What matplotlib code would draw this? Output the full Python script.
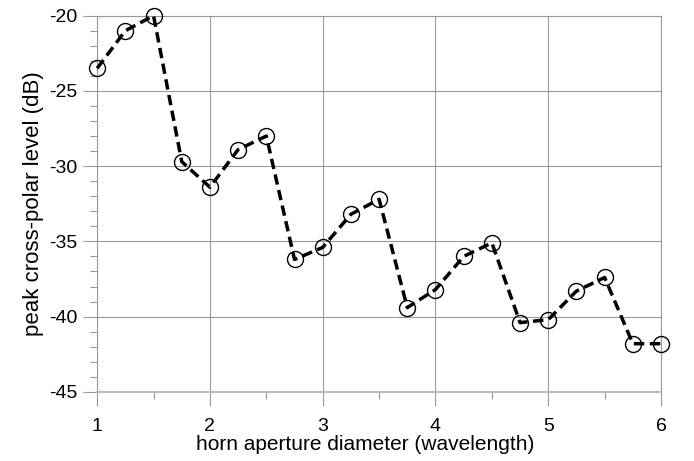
import numpy as np
import matplotlib
matplotlib.use('Agg')
import matplotlib.pyplot as plt
from matplotlib.ticker import MultipleLocator

plt.rcParams['font.family'] = ['Liberation Sans', 'DejaVu Sans']
plt.rcParams['axes.unicode_minus'] = False

# horn aperture diameter (wavelengths) and peak cross-polar level (dB)
diameter = [1.0, 1.25, 1.5, 1.75, 2.0, 2.25, 2.5, 2.75, 3.0, 3.25, 3.5,
            3.75, 4.0, 4.25, 4.5, 4.75, 5.0, 5.25, 5.5, 5.75, 6.0]
xpol = [-23.5, -21.0, -20.0, -29.7, -31.4, -28.9, -28.0, -36.2, -35.4, -33.2, -32.2,
        -39.4, -38.2, -36.0, -35.1, -40.4, -40.2, -38.3, -37.4, -41.8, -41.8]

fig = plt.figure(figsize=(6.94, 4.61), dpi=100)
ax = fig.add_axes([0.14, 0.15, 0.8125, 0.816])

ax.plot(diameter, xpol, color='black', lw=2.5, ls=(0, (3.0, 1.6)),
        marker='o', ms=11.5, mfc='none', mec='black', mew=1.0,
        zorder=3, clip_on=False)

ax.set_xlim(1, 6)
ax.set_ylim(-45, -20)
ax.xaxis.set_major_locator(MultipleLocator(1))
ax.xaxis.set_minor_locator(MultipleLocator(0.5))
ax.yaxis.set_major_locator(MultipleLocator(5))
ax.yaxis.set_minor_locator(MultipleLocator(1))

ax.grid(True, which='major', color='#999999', lw=0.8)
for s in ax.spines.values():
    s.set_color('#999999')
    s.set_linewidth(0.8)
ax.spines['bottom'].set_color('#bbbbbb')
ax.spines['bottom'].set_linewidth(1.5)

ax.tick_params(which='major', length=10, width=0.8, color='#999999',
               labelsize=14, pad=4)
ax.tick_params(which='minor', length=5, width=0.8, color='#999999')
ax.tick_params(axis='x', which='major', pad=9)
ax.tick_params(axis='x', which='both', top=False)
ax.tick_params(axis='y', which='both', right=False)

ax.set_xlabel('horn aperture diameter (wavelength)', fontsize=15, labelpad=3)
ax.xaxis.set_label_coords(0.476, -0.115)
ax.set_ylabel('peak cross-polar level (dB)', fontsize=16, labelpad=4)

fig.savefig('out.png', dpi=100)
